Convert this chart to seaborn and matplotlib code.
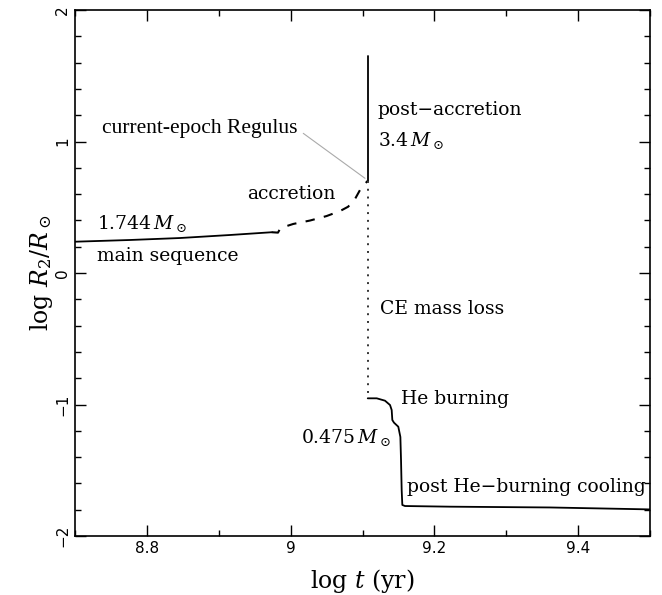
import pandas as pd
import numpy as np
import matplotlib
matplotlib.use('Agg')
import matplotlib.pyplot as plt
from matplotlib.ticker import MultipleLocator
import seaborn as sns

# main sequence (solid)
ms_t = [8.700, 8.7765, 8.846, 8.9157, 8.9737]
ms_r = [0.238, 0.251, 0.266, 0.289, 0.310]

# accretion (dashed)
acc_t = [8.9737, 8.9824, 8.9859, 9.0037, 9.027, 9.050, 9.0687, 9.080, 9.0896, 9.0965, 9.102, 9.107]
acc_r = [0.310, 0.307, 0.342, 0.373, 0.399, 0.433, 0.471, 0.504, 0.563, 0.631, 0.669, 0.700]

# post-accretion (solid vertical)
post_t = [9.107, 9.107]
post_r = [0.700, 1.65]

# CE mass loss (dotted vertical)
ce_t = [9.107, 9.107]
ce_r = [0.700, -0.953]

# He burning + cooling
he_t = [9.1073, 9.1198, 9.1313, 9.1383, 9.1406, 9.1415, 9.1438, 9.1498, 9.1527,
        9.1536, 9.1545, 9.1554, 9.1591, 9.2217, 9.361, 9.493, 9.500]
he_r = [-0.953, -0.953, -0.971, -1.004, -1.042, -1.118, -1.138, -1.169, -1.247,
        -1.422, -1.650, -1.764, -1.772, -1.777, -1.783, -1.797, -1.798]

# Regulus pointer
reg_t = [9.0176, 9.1035]
reg_r = [1.062, 0.720]

sns.set_theme(style='ticks')
plt.rcParams['font.family'] = ['DejaVu Serif']
plt.rcParams['mathtext.fontset'] = 'dejavuserif'
plt.rcParams['text.color'] = 'black'
plt.rcParams['axes.labelcolor'] = 'black'

fig = plt.figure(figsize=(6.62, 5.95), dpi=100)
ax = fig.add_axes([75/662, 1-536/595, 575/662, 526/595])

def seg(t, r, ls=None, **kw):
    d = pd.DataFrame({'t': t, 'r': r})
    sns.lineplot(data=d, x='t', y='r', sort=False, estimator=None, ax=ax, **kw)
    if ls is not None:
        ax.lines[-1].set_linestyle(ls)

seg(ms_t, ms_r, color='black', lw=1.3)
seg(acc_t, acc_r, ls=(0, (4.5, 4.5)), color='black', lw=1.5)
seg(post_t, post_r, color='black', lw=1.3)
seg(ce_t, ce_r, ls=(0, (1, 3)), color='#333333', lw=1.4)
seg(he_t, he_r, color='black', lw=1.3)
seg(reg_t, reg_r, color='#aaaaaa', lw=0.8)

ax.set_xlim(8.7, 9.5)
ax.set_ylim(-2, 2)
ax.xaxis.set_major_locator(MultipleLocator(0.2))
ax.xaxis.set_minor_locator(MultipleLocator(0.1))
ax.yaxis.set_major_locator(MultipleLocator(1))
ax.yaxis.set_minor_locator(MultipleLocator(0.2))
ax.set_xticks([8.8, 9.0, 9.2, 9.4])
ax.set_xticklabels(['8.8', '9', '9.2', '9.4'])
ax.set_yticks([-2, -1, 0, 1, 2])
ax.set_yticklabels(['\u22122', '\u22121', '0', '1', '2'], rotation=90, va='center')
ax.tick_params(which='both', direction='in', top=True, right=True, colors='black')
ax.tick_params(which='major', length=8, width=1)
ax.tick_params(which='minor', length=4, width=1)
for lab in ax.get_xticklabels() + ax.get_yticklabels():
    lab.set_family('DejaVu Sans')
    lab.set_fontsize(11)
for s in ax.spines.values():
    s.set_linewidth(1.2)
    s.set_color('black')

ax.set_xlabel(r'log $t$ (yr)', fontsize=17, labelpad=8)
ax.set_ylabel(r'log $R_2/R_\odot$', fontsize=17, labelpad=0)

fs = 13.5
ax.text(8.731, 0.38, r'$1.744\,M_\odot$', fontsize=fs, va='center')
ax.text(8.731, 0.13, 'main sequence', fontsize=fs, va='center')
ax.text(8.939, 0.60, 'accretion', fontsize=fs, va='center')
ax.text(9.121, 1.24, 'post\u2212accretion', fontsize=fs, va='center')
ax.text(9.121, 1.01, r'$3.4\,M_\odot$', fontsize=fs, va='center')
ax.text(9.124, -0.27, 'CE mass loss', fontsize=fs, va='center')
ax.text(9.1537, -0.96, 'He burning', fontsize=fs, va='center')
ax.text(9.1400, -1.25, r'$0.475\,M_\odot$', fontsize=fs, va='center', ha='right')
ax.text(9.162, -1.625, 'post He\u2212burning cooling', fontsize=fs, va='center')
ax.text(9.0092, 1.10, 'current-epoch Regulus', fontsize=15.5, va='center', ha='right',
        family='Liberation Serif')

fig.savefig('out.png', dpi=100)
